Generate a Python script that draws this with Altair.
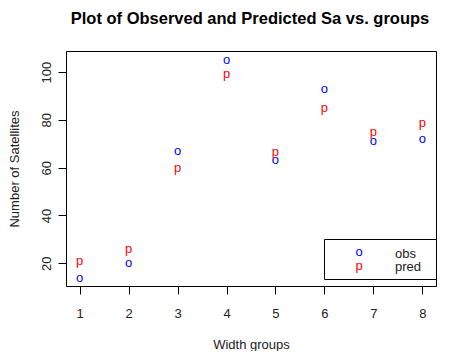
import altair as alt
import pandas as pd

FONT = "Liberation Sans, Arial, sans-serif"

groups = [1, 2, 3, 4, 5, 6, 7, 8]
observed = [14, 20, 67, 105, 63, 93, 71, 72]
predicted = [21.0, 25.9, 59.8, 99.0, 66.5, 84.9, 75.0, 78.8]
y_ticks = [20, 40, 60, 80, 100]
legend_labels = ["obs", "pred"]
legend_symbols = ["o", "p"]
legend_colors = ["blue", "red"]
title_text = "Plot of Observed and Predicted Sa vs. groups"

W, H = 370, 235

df_obs = pd.DataFrame({"group": groups, "value": observed})
df_pred = pd.DataFrame({"group": groups, "value": predicted})

x_enc = alt.X(
    "group:Q",
    scale=alt.Scale(domain=[0.72, 8.28], nice=False, zero=False),
    axis=alt.Axis(
        values=groups, format="d", title="Width groups", domain=False, grid=False,
        tickSize=8, tickColor="black", labelPadding=13, labelFontSize=13,
        labelColor="#222222", labelFont=FONT, titleFont=FONT, titleFontSize=13,
        titleFontWeight="normal", titleColor="#222222", titleX=185, titleY=58,
        titleAlign="center", titleBaseline="middle", titleAngle=0,
    ),
)
y_enc = alt.Y(
    "value:Q",
    scale=alt.Scale(domain=[10.5, 108.8], nice=False, zero=False),
    axis=alt.Axis(
        values=y_ticks, title="Number of Satellites", domain=False, grid=False,
        tickSize=8, tickColor="black", labelAngle=270, labelAlign="center",
        labelBaseline="bottom", labelPadding=5, labelFontSize=13, labelColor="#222222",
        labelFont=FONT, titleFont=FONT, titleFontSize=13, titleFontWeight="normal",
        titleColor="#222222", titleX=-51.5, titleY=117.5, titleAngle=270,
        titleAlign="center", titleBaseline="middle",
    ),
)

one = pd.DataFrame({"k": [0]})

frame = alt.Chart(one).mark_rect(
    fillOpacity=0, stroke="black", strokeWidth=1
).encode(x=alt.value(0.5), x2=alt.value(W + 0.5), y=alt.value(0.5), y2=alt.value(H + 0.5))

obs_layer = alt.Chart(df_obs).mark_text(
    text="o", color="blue", fontSize=13, font=FONT, align="center", baseline="middle"
).encode(x=x_enc, y=y_enc)

pred_layer = alt.Chart(df_pred).mark_text(
    text="p", color="red", fontSize=13, font=FONT, align="center", baseline="middle"
).encode(x=x_enc, y=y_enc)

legend_box = alt.Chart(one).mark_rect(
    fill="white", stroke="black", strokeWidth=1
).encode(x=alt.value(258.5), x2=alt.value(W + 0.5), y=alt.value(188.5), y2=alt.value(228.5))

legend_layers = []
for i in range(len(legend_labels)):
    d = pd.DataFrame({"sym": [legend_symbols[i]], "lab": [legend_labels[i]]})
    ypos = 201 + i * 13.5
    legend_layers.append(
        alt.Chart(d).mark_text(
            color=legend_colors[i], fontSize=13, font=FONT, align="center", baseline="middle"
        ).encode(text="sym:N", x=alt.value(293), y=alt.value(ypos))
    )
    legend_layers.append(
        alt.Chart(d).mark_text(
            color="#222222", fontSize=13, font=FONT, align="left", baseline="middle"
        ).encode(text="lab:N", x=alt.value(329), y=alt.value(ypos + 1.5))
    )

title_layer = alt.Chart(pd.DataFrame({"t": [title_text]})).mark_text(
    font=FONT, fontSize=16.5, fontWeight="bold", color="black", align="center",
    baseline="alphabetic"
).encode(text="t:N", x=alt.value(184), y=alt.value(-27.5))

chart = alt.layer(
    frame, obs_layer, pred_layer, legend_box, *legend_layers, title_layer
).properties(
    width=W,
    height=H,
    autosize=alt.AutoSizeParams(type="none"),
    padding={"left": 58, "top": 43, "right": 6, "bottom": 65},
).configure_view(strokeOpacity=0).configure(background="white")

chart.save("out.html", embed_options={"renderer": "svg", "actions": False})
